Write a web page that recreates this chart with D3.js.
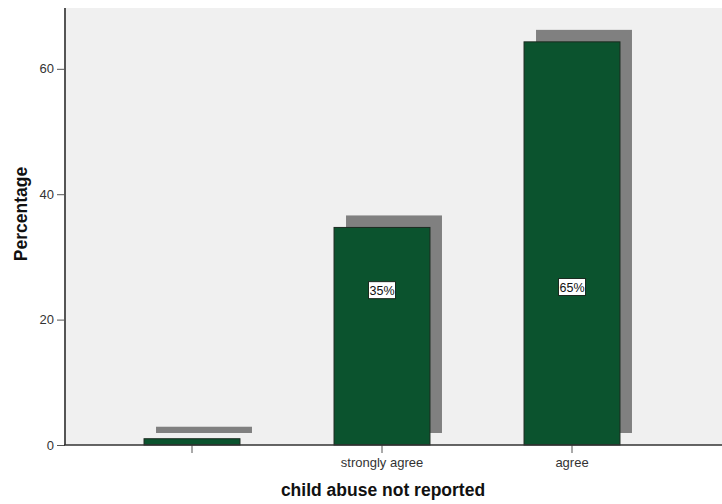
<!DOCTYPE html>
<html><head><meta charset="utf-8">
<script src="https://cdn.jsdelivr.net/npm/d3@7"></script>
<style>body{margin:0;background:#fff}svg{display:block}</style>
</head><body>
<script>
const categories = ["", "strongly agree", "agree"];
const percentages = [1.0, 34.7, 64.3];
const barLabels = [null, "35%", "65%"];
const labelPositions = [null, 24.7, 25.2];
const yTicks = [0, 20, 40, 60];

const W = 722, H = 504;
const plot = {left: 65, right: 722, top: 8, bottom: 445};
const depth = 12;

const svg = d3.select("body").append("svg").attr("width", W).attr("height", H);

const x = d3.scaleBand().domain(categories).range([97, 667]).paddingInner(0.495).paddingOuter(0.2475);
const y = d3.scaleLinear().domain([0, 69.7]).range([plot.bottom, plot.top]);

svg.append("rect").attr("x", plot.left).attr("y", plot.top)
  .attr("width", plot.right - plot.left).attr("height", plot.bottom - plot.top)
  .attr("fill", "#f0f0f0");

// shadows
svg.append("g").selectAll("rect").data(percentages).join("rect")
  .attr("x", (d, i) => x(categories[i]) + depth)
  .attr("y", d => y(d) - depth)
  .attr("width", x.bandwidth())
  .attr("height", d => y(0) - y(d))
  .attr("fill", "#808080");

// bars
svg.append("g").selectAll("rect").data(percentages).join("rect")
  .attr("x", (d, i) => x(categories[i]))
  .attr("y", d => y(d))
  .attr("width", x.bandwidth())
  .attr("height", d => y(0) - y(d))
  .attr("fill", "#0b532e")
  .attr("stroke", "#1b2a20").attr("stroke-width", 1);

// labels
const lg = svg.append("g");
percentages.forEach((d, i) => {
  if (!barLabels[i]) return;
  const cx = x(categories[i]) + x.bandwidth() / 2;
  const cy = y(labelPositions[i]);
  lg.append("rect").attr("x", cx - 13.5).attr("y", cy - 8.5).attr("width", 27).attr("height", 17)
    .attr("fill", "#fff").attr("stroke", "#1b2a20").attr("stroke-width", 1);
  lg.append("text").attr("x", cx).attr("y", cy + 4.5).attr("text-anchor", "middle")
    .attr("font-family", "Liberation Sans, Arial, sans-serif").attr("font-size", 12.5)
    .attr("fill", "#111").text(barLabels[i]);
});

// y axis
const ya = svg.append("g").attr("transform", `translate(${plot.left},0)`)
  .call(d3.axisLeft(y).tickValues(yTicks).tickSize(8).tickPadding(3).tickSizeOuter(0));
ya.select(".domain").remove();
ya.selectAll(".tick line").attr("stroke", "#555");
ya.selectAll(".tick text").attr("font-family", "Liberation Sans, Arial, sans-serif")
  .attr("font-size", 13).attr("fill", "#333");
svg.append("line").attr("x1", plot.left).attr("x2", plot.left).attr("y1", plot.top).attr("y2", plot.bottom)
  .attr("stroke", "#555").attr("stroke-width", 2);

// x axis
const xa = svg.append("g").attr("transform", `translate(0,${plot.bottom})`)
  .call(d3.axisBottom(x).tickSize(8).tickPadding(5).tickSizeOuter(0));
xa.select(".domain").remove();
xa.selectAll(".tick line").attr("stroke", "#555");
xa.selectAll(".tick text").attr("font-family", "Liberation Sans, Arial, sans-serif")
  .attr("font-size", 13).attr("fill", "#333");
svg.append("line").attr("x1", plot.left - 1).attr("x2", plot.right).attr("y1", plot.bottom).attr("y2", plot.bottom)
  .attr("stroke", "#333").attr("stroke-width", 1.5);

svg.append("text").attr("x", 383).attr("y", 496).attr("text-anchor", "middle")
  .attr("font-family", "Liberation Sans, Arial, sans-serif").attr("font-weight", "bold")
  .attr("font-size", 17.5).attr("fill", "#111").text("child abuse not reported");

svg.append("text").attr("transform", "translate(27,214) rotate(-90)").attr("text-anchor", "middle")
  .attr("font-family", "Liberation Sans, Arial, sans-serif").attr("font-weight", "bold")
  .attr("font-size", 17.5).attr("fill", "#111").text("Percentage");
</script>
</body></html>
